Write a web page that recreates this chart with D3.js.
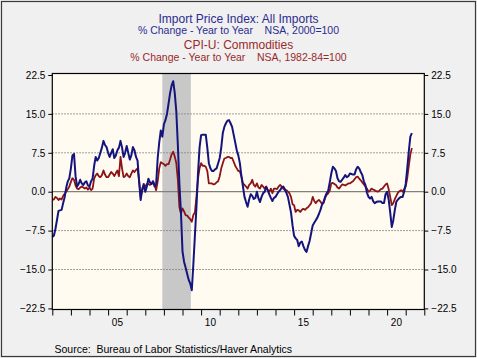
<!DOCTYPE html>
<html><head><meta charset="utf-8">
<script src="https://cdn.jsdelivr.net/npm/d3@7"></script>
<style>
html,body{margin:0;padding:0;background:#f0f0f0;}
svg{display:block;font-family:"Liberation Sans",Arial,sans-serif;}
</style></head>
<body><svg id="c" width="477" height="358"></svg>
<script>
// Monthly data, Jan 2002 .. May 2021 (% change, year to year)
const startYear = 2002;
const importPrices = [
 -8.7,-8.5,-7.2,-5.5,-3.7,-3.6,-3.5,-2.2,-1.0,0.8,2.0,2.6,
 4.5,7.0,7.3,3.0,1.0,1.5,2.3,1.6,1.3,1.8,2.0,1.2,
 1.0,2.0,2.5,5.0,6.7,6.0,6.5,7.5,8.5,9.8,9.0,8.6,
 7.5,6.7,7.5,8.2,6.5,7.0,8.0,8.5,9.8,8.5,6.7,7.5,
 8.8,7.5,6.2,7.0,8.6,8.0,6.7,6.0,2.0,-1.6,0.5,1.5,
 0.0,1.0,2.5,1.8,1.5,2.0,1.0,1.5,6.5,9.5,11.8,10.6,
 13.0,13.8,15.0,17.0,19.0,20.5,21.3,19.0,15.5,9.0,1.5,-4.0,
 -11.5,-13.5,-14.6,-15.8,-17.0,-17.7,-19.0,-14.0,-8.5,-3.0,3.5,8.5,
 10.9,11.0,11.0,11.0,8.5,5.5,4.5,4.0,4.0,4.3,4.5,5.5,
 6.5,8.5,11.3,12.5,13.2,13.7,13.8,13.2,12.5,11.0,9.5,8.0,
 7.0,5.5,3.0,1.0,-1.0,-2.0,-2.9,-1.5,-0.5,-0.8,-1.4,-1.2,
 0.0,-1.3,-2.0,-1.0,-0.3,0.0,0.9,0.3,-0.5,-1.2,-1.8,-1.2,
 -1.0,-0.5,0.0,0.3,0.8,1.0,0.5,-0.2,-1.0,-2.5,-4.0,-6.5,
 -8.5,-9.0,-9.3,-10.5,-9.8,-9.6,-10.5,-11.2,-11.6,-10.5,-9.5,-8.0,
 -6.5,-6.0,-5.5,-5.0,-4.3,-3.5,-2.5,-2.0,-1.0,-0.3,0.2,1.8,
 3.5,4.8,4.5,4.0,2.6,2.0,1.9,2.3,2.7,3.2,2.8,3.0,
 3.5,3.4,3.3,3.3,4.3,4.8,4.5,3.8,3.2,2.0,1.3,-0.2,
 -1.0,-1.3,-1.0,-1.8,-2.2,-2.0,-1.9,-1.9,-1.9,-2.2,-2.2,-0.5,
 0.0,-1.5,-4.0,-6.8,-5.5,-3.5,-1.9,-1.5,-1.2,-1.0,-1.0,0.0,
 1.5,4.5,7.8,10.6,11.3
];
const cpiCommodities = [
 -1.6,-1.5,-1.0,-1.2,-1.6,-1.3,-1.5,-0.8,-0.4,0.0,0.5,1.0,
 1.9,2.6,2.3,1.2,0.6,0.5,0.8,1.0,0.8,0.6,0.8,0.4,
 0.8,0.3,0.6,2.5,3.2,3.5,3.0,2.8,3.2,4.1,3.3,2.8,
 2.8,3.3,3.8,3.5,3.0,3.6,4.1,3.0,6.7,4.5,2.8,3.0,
 3.5,3.0,2.8,3.5,4.1,3.8,4.2,4.5,2.2,-1.0,0.2,1.0,
 1.0,1.5,1.5,1.3,1.5,2.0,1.3,0.3,2.0,4.5,5.7,5.5,
 5.3,5.0,5.3,5.3,6.2,7.2,7.7,6.8,5.5,2.3,-3.0,-4.2,
 -3.2,-3.8,-4.5,-4.6,-5.0,-5.3,-5.8,-4.5,-4.0,-1.0,2.5,4.5,
 5.5,5.0,5.0,4.8,4.0,1.6,1.6,1.6,1.4,1.5,1.8,2.0,
 3.0,4.5,5.5,6.4,6.5,6.7,6.7,6.5,6.5,5.8,5.0,4.5,
 4.0,3.9,3.0,1.6,1.3,1.0,0.6,1.3,1.6,2.3,1.3,1.0,
 1.6,0.8,0.6,1.3,1.0,0.6,1.0,0.3,0.0,0.6,-0.3,0.6,
 0.6,0.5,1.0,1.3,1.0,0.6,0.3,0.3,0.0,-0.3,-1.0,-2.4,
 -2.6,-3.9,-3.5,-3.6,-3.9,-3.5,-3.3,-3.5,-3.2,-3.0,-2.6,-2.2,
 -1.0,-1.8,-2.2,-1.8,-1.6,-1.9,-2.4,-2.2,-1.2,-0.6,-0.3,0.2,
 1.6,1.7,1.5,1.3,0.8,0.6,1.0,1.4,1.3,1.2,1.4,1.6,
 1.6,1.8,2.0,2.4,2.8,2.9,2.5,2.2,1.8,1.4,1.0,0.6,
 0.0,0.2,0.6,0.4,0.3,0.1,0.0,0.2,0.5,0.6,1.0,1.4,
 1.6,0.5,-1.0,-2.6,-2.2,-1.4,-0.8,-0.2,0.1,0.3,0.0,0.5,
 1.0,2.6,5.0,7.2,8.4
];
const yTicks = [-22.5,-15.0,-7.5,0.0,7.5,15.0,22.5];
const xTickYears = d3.range(2002, 2023);
const xLabelYears = [2005, 2010, 2015, 2020];
const xLabels = ["05","10","15","20"];
const recessions = [[2007.917, 2009.45]];
const titles = [
  {text:"Import Price Index: All Imports", cls:"blue", big:true},
  {text:"% Change - Year to Year    NSA, 2000=100", cls:"blue", big:false},
  {text:"CPI-U: Commodities", cls:"red", big:true},
  {text:"% Change - Year to Year    NSA, 1982-84=100", cls:"red", big:false}
];
const sourceText = "Source:  Bureau of Labor Statistics/Haver Analytics";

const BLUE = "#14147e", RED = "#8c1414";
const W = 477, H = 358;
const L = 52.3, R = 424.3, T = 73.5, B = 309.5;
const svg = d3.select("#c");

svg.append("rect").attr("x",1.5).attr("y",1.5).attr("width",W-3).attr("height",H-3)
  .attr("fill","#f0f0f0").attr("stroke","#3a3a3a").attr("stroke-width",1.2);

const x = d3.scaleLinear().domain([2002, 2022]).range([L, R]);
const y = d3.scaleLinear().domain([-22.5, 22.5]).range([308.4, 75.0]);

svg.append("rect").attr("x",L).attr("y",T).attr("width",R-L).attr("height",B-T)
  .attr("fill","#fffbf0");

// recession shading
svg.selectAll("rect.rec").data(recessions).join("rect").attr("class","rec")
  .attr("x",d=>x(d[0])).attr("width",d=>x(d[1])-x(d[0]))
  .attr("y",T).attr("height",B-T).attr("fill","#c8c8c8");

// gridlines
svg.selectAll("line.grid").data(yTicks.filter(v=>v!==0 && Math.abs(v)<22)).join("line")
  .attr("class","grid").attr("x1",L).attr("x2",R)
  .attr("y1",d=>y(d)).attr("y2",d=>y(d))
  .attr("stroke","#808080").attr("stroke-width",1).attr("stroke-dasharray","1.5,1.5");
svg.append("line").attr("x1",L).attr("x2",R).attr("y1",y(0)).attr("y2",y(0))
  .attr("stroke","#808080").attr("stroke-width",1.2);

// lines
const line = d3.line().x((d,i)=>x(startYear + i/12)).y(d=>y(d));
svg.append("path").datum(cpiCommodities).attr("d",line).attr("fill","none")
  .attr("stroke",RED).attr("stroke-width",1.8).attr("stroke-linejoin","round");
svg.append("path").datum(importPrices).attr("d",line).attr("fill","none")
  .attr("stroke",BLUE).attr("stroke-width",2).attr("stroke-linejoin","round");

// frame
svg.append("rect").attr("x",L).attr("y",T).attr("width",R-L).attr("height",B-T)
  .attr("fill","none").attr("stroke","#000").attr("stroke-width",1.2);

// axes
const fmt = d3.format(".1f");
const leftAxis = d3.axisLeft(y).tickValues(yTicks).tickSize(4).tickPadding(3).tickFormat(fmt);
const rightAxis = d3.axisRight(y).tickValues(yTicks).tickSize(4).tickPadding(3).tickFormat(fmt);
const gl = svg.append("g").attr("transform",`translate(${L},0)`).call(leftAxis);
const gr = svg.append("g").attr("transform",`translate(${R},0)`).call(rightAxis);
const bottomAxis = d3.axisBottom(x).tickValues(xTickYears).tickSize(6).tickFormat("");
const gb = svg.append("g").attr("transform",`translate(0,${B})`).call(bottomAxis);
[gl,gr,gb].forEach(g=>{
  g.select(".domain").remove();
  g.selectAll("line").attr("stroke","#000");
  g.selectAll("text").attr("font-family","Liberation Sans, Arial, sans-serif")
   .attr("font-size","10px").attr("fill","#000");
});
svg.selectAll("text.xl").data(xLabelYears).join("text").attr("class","xl")
  .attr("x",d=>x(d+0.5)).attr("y",326).attr("text-anchor","middle")
  .attr("font-size","10px").attr("fill","#000").text((d,i)=>xLabels[i]);

// titles
const ty = [22.5, 34, 48.5, 60.5];
svg.selectAll("text.t").data(titles).join("text").attr("class","t")
  .attr("x",238.5).attr("y",(d,i)=>ty[i]).attr("text-anchor","middle")
  .attr("font-size",d=>d.big?"12px":"10.5px")
  .attr("fill",d=>d.cls==="blue"?"#2b2b8f":"#992a2a")
  .attr("xml:space","preserve").style("white-space","pre")
  .text(d=>d.text);

svg.append("text").attr("x",54.5).attr("y",353).attr("font-size","10.5px")
  .attr("fill","#000").style("white-space","pre").text(sourceText);
</script></body></html>
